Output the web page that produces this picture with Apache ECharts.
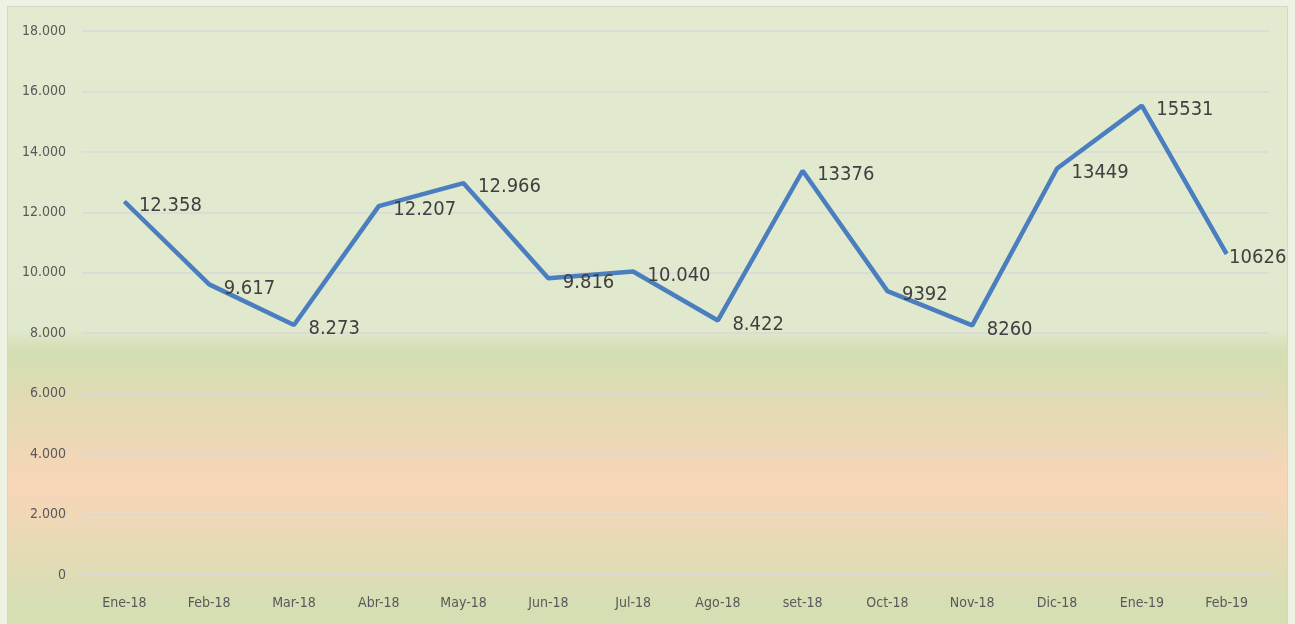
<!DOCTYPE html>
<html>
<head>
<meta charset="utf-8">
<script src="https://cdn.jsdelivr.net/npm/echarts@6/dist/echarts.min.js"></script>
<style>
  html, body { margin: 0; padding: 0; width: 1295px; height: 624px; overflow: hidden; background: #edf2e3; }
  #chart { position: absolute; left: 7px; top: 6px; width: 1279px; height: 620px; border: 1px solid #d3d7cb; }
</style>
</head>
<body>
<div id="chart"></div>
<script>
// datos del grafico
var categories = ['Ene-18', 'Feb-18', 'Mar-18', 'Abr-18', 'May-18', 'Jun-18', 'Jul-18', 'Ago-18', 'set-18', 'Oct-18', 'Nov-18', 'Dic-18', 'Ene-19', 'Feb-19'];
var values = [12358, 9617, 8273, 12207, 12966, 9816, 10040, 8422, 13376, 9392, 8260, 13449, 15531, 10626];
var pointLabels = ['12.358', '9.617', '8.273', '12.207', '12.966', '9.816', '10.040', '8.422', '13376', '9392', '8260', '13449', '15531', '10626'];
var yTickLabels = ['0', '2.000', '4.000', '6.000', '8.000', '10.000', '12.000', '14.000', '16.000', '18.000'];

var fuente = 'Liberation Sans Narrow, DejaVu Sans Condensed, sans-serif';

// el ultimo punto lleva la etiqueta pegada (como en Excel)
var seriesData = values.map(function (v, i) {
  if (i === values.length - 1) {
    return { value: v, label: { distance: 2 } };
  }
  return v;
});

var myChart = echarts.init(document.getElementById('chart'));
var option = {
  backgroundColor: {
    type: 'linear', x: 0, y: 0, x2: 0, y2: 1,
    colorStops: [
      { offset: 0, color: '#e2ebd0' },
      { offset: 0.52, color: '#e0e9cd' },
      { offset: 0.555, color: '#d3deb3' },
      { offset: 0.77, color: '#f9d5b8' },
      { offset: 0.97, color: '#d4dfb4' },
      { offset: 1, color: '#d4dfb4' }
    ]
  },
  grid: { left: 74, right: 18, top: 24, bottom: 52 },
  xAxis: {
    type: 'category',
    data: categories,
    boundaryGap: true,
    axisLine: { show: true, lineStyle: { color: '#d9d9d9', width: 1.5 } },
    axisTick: { show: false },
    axisLabel: { color: '#595959', fontSize: 14, margin: 21, fontFamily: fuente }
  },
  yAxis: {
    type: 'value',
    min: 0, max: 18000, interval: 2000,
    axisLine: { show: false },
    axisTick: { show: false },
    splitLine: { lineStyle: { color: '#d9d9d9', width: 1.5 } },
    axisLabel: {
      color: '#595959', fontSize: 14, margin: 16,
      fontFamily: fuente,
      formatter: function (v) { return yTickLabels[v / 2000]; }
    }
  },
  series: [{
    type: 'line',
    data: seriesData,
    symbol: 'circle',
    symbolSize: 1,
    showSymbol: true,
    itemStyle: { color: '#4a7ebf' },
    lineStyle: { color: '#4a7ebf', width: 4.5 },
    label: {
      show: true,
      position: 'right',
      distance: 14,
      offset: [0, 4],
      color: '#404040',
      fontSize: 20,
      fontFamily: fuente,
      formatter: function (p) { return pointLabels[p.dataIndex]; }
    },
    animation: false
  }]
};
myChart.setOption(option);
</script>
</body>
</html>
